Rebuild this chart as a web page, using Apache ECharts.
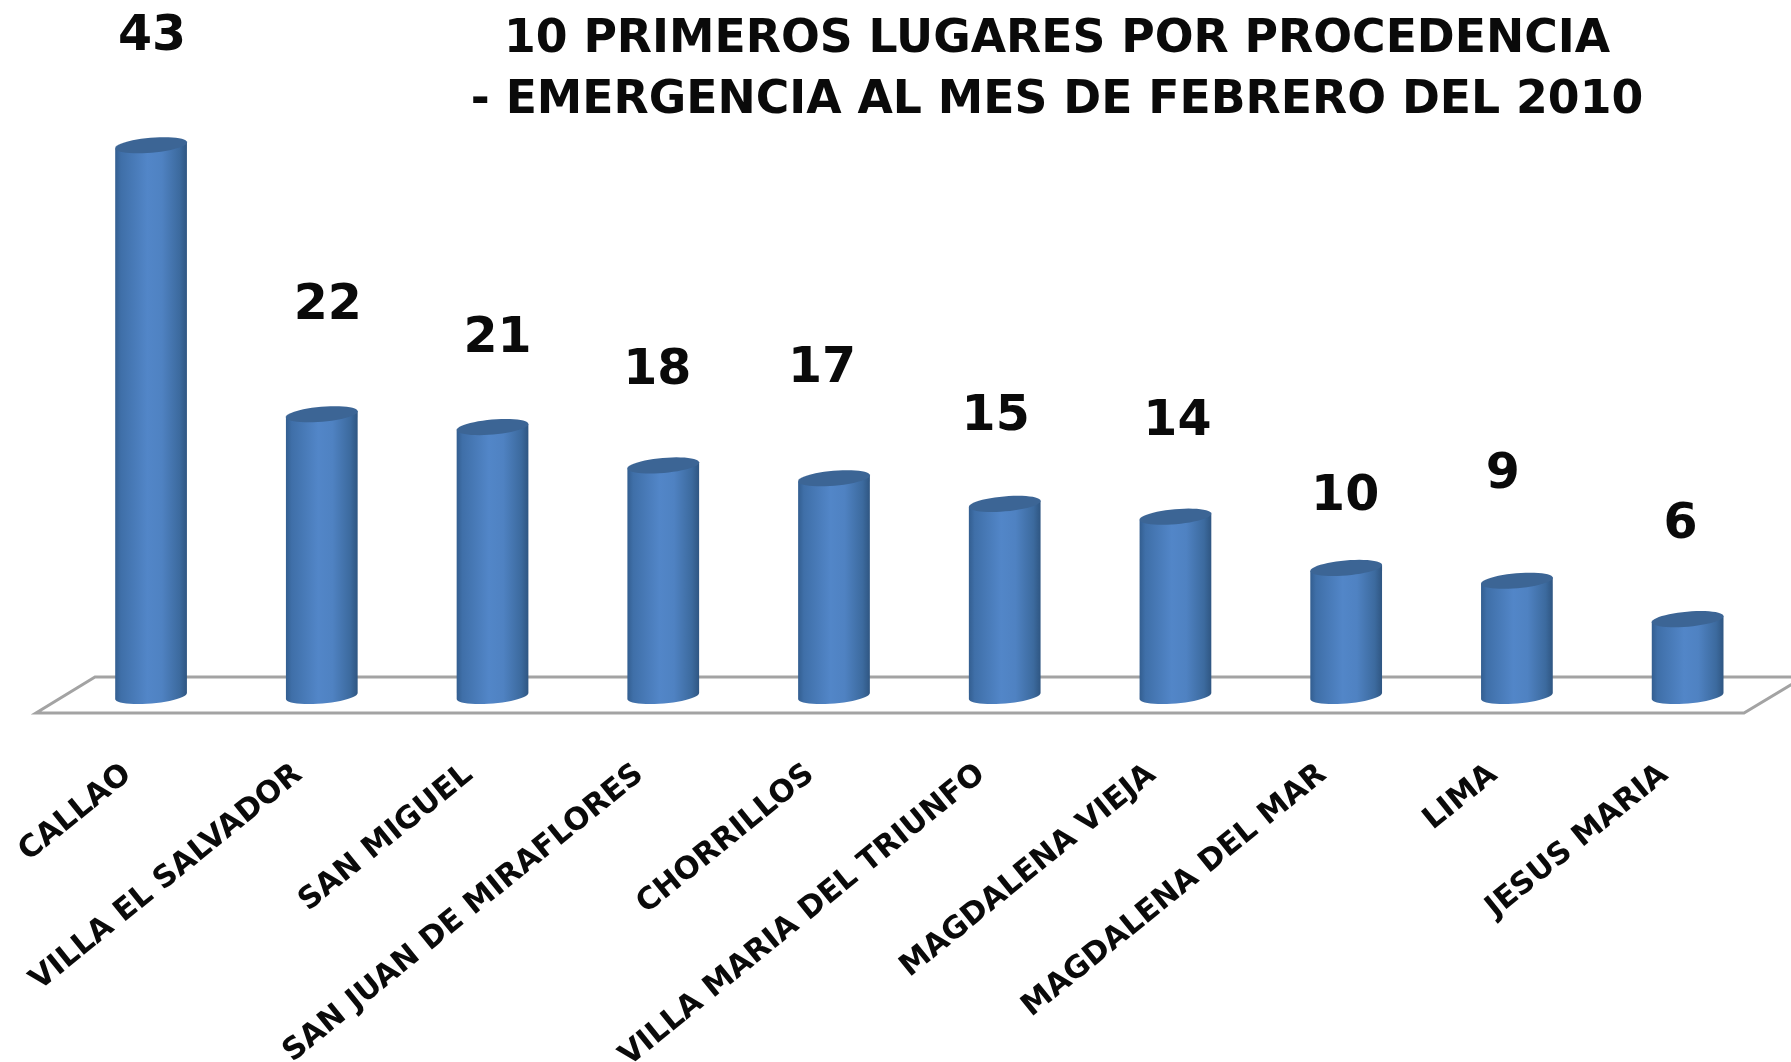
<!DOCTYPE html>
<html><head><meta charset="utf-8">
<style>html,body{margin:0;padding:0;background:#fff}#c{width:1791px;height:1062px}</style>
<script src="https://cdn.jsdelivr.net/npm/echarts@6/dist/echarts.min.js"></script>
</head><body><div id="c"></div>
<script>
const categories = ['CALLAO','VILLA EL SALVADOR','SAN MIGUEL','SAN JUAN DE MIRAFLORES','CHORRILLOS','VILLA MARIA DEL TRIUNFO','MAGDALENA VIEJA','MAGDALENA DEL MAR','LIMA','JESUS MARIA'];
const values = [43,22,21,18,17,15,14,10,9,6];
const titleLines = ['10 PRIMEROS LUGARES POR PROCEDENCIA','- EMERGENCIA AL MES DE FEBRERO DEL 2010'];
// hand-placed label offsets, in px, from each bar's top
const labelShiftX = [1,6,5,-6,-12,-9,2,-1,-14,-7];
const labelShiftY = [-108,-108,-88,-94,-109,-87,-94,-71,-105,-94];

const RX = 36, RY = 7.5, TILT = -5 * Math.PI / 180;
function ell(cx, cy, a0, a1, n) {
  const pts = [];
  for (let i = 0; i <= n; i++) {
    const a = a0 + (a1 - a0) * i / n, ex = RX * Math.cos(a), ey = RY * Math.sin(a);
    pts.push([cx + ex * Math.cos(TILT) - ey * Math.sin(TILT), cy + ex * Math.sin(TILT) + ey * Math.cos(TILT)]);
  }
  return pts;
}
const bodyFill = new echarts.graphic.LinearGradient(0, 0, 1, 0, [
  {offset: 0, color: '#335e90'}, {offset: 0.08, color: '#3f6fa8'}, {offset: 0.45, color: '#5286c8'},
  {offset: 0.65, color: '#4f82c2'}, {offset: 0.9, color: '#3c6a9e'}, {offset: 1, color: '#2f5682'}
]);
const chart = echarts.init(document.getElementById('c'), null, {renderer: 'canvas'});
chart.setOption({
  animation: false,
  backgroundColor: '#fff',
  title: {
    text: titleLines.join('\n'), left: 1052, top: 5, textAlign: 'center',
    textStyle: {fontFamily: 'DejaVu Sans', fontWeight: 700, fontSize: 45.7, lineHeight: 61, color: '#0a0a0a'}
  },
  grid: {left: 65.7, right: 18, top: 30, bottom: 366, outerBoundsMode: 'none', containLabel: false},
  xAxis: {
    type: 'category', data: categories,
    axisLine: {show: false}, axisTick: {show: false},
    axisLabel: {interval: 0, rotate: 39, margin: 56, padding: [0, 30, 0, 0], fontFamily: 'DejaVu Sans', fontWeight: 700, fontSize: 30.5, color: '#0a0a0a'}
  },
  yAxis: {type: 'value', min: 0, max: 52, show: false, splitLine: {show: false}},
  series: [
    {
      type: 'custom', z: 1, silent: true, data: [0],
      renderItem(p, api) {
        const c = p.coordSys, yb = c.y + c.height;
        return {type: 'polygon', shape: {points: [[36, yb + 17], [1744, yb + 17], [1804, yb - 19], [95, yb - 19]]},
          style: {fill: '#fff', stroke: '#a3a3a3', lineWidth: 3}};
      }
    },
    {
      type: 'custom', z: 2, data: values.map((v, i) => [i, v]),
      encode: {x: 0, y: 1},
      renderItem(p, api) {
        const i = api.value(0), v = api.value(1);
        const top = api.coord([i, v]), base = api.coord([i, 0]);
        const cx = top[0];
        const rim = ell(cx, base[1], 0, Math.PI, 24);
        const left = ell(cx, top[1], Math.PI, Math.PI, 1)[0];
        const right = ell(cx, top[1], 0, 0, 1)[0];
        return {type: 'group', children: [
          {type: 'polygon', shape: {points: [left, right].concat(rim)}, style: {fill: bodyFill}},
          {type: 'polygon', shape: {points: ell(cx, top[1], 0, 2 * Math.PI, 48)}, style: {fill: '#3c6595'}},
          {type: 'text', style: {text: String(v), x: cx + labelShiftX[i], y: top[1] + labelShiftY[i], align: 'center', verticalAlign: 'middle',
            fill: '#0a0a0a', fontFamily: 'DejaVu Sans', fontWeight: 700, fontSize: 49}}
        ]};
      }
    }
  ]
});
</script></body></html>
